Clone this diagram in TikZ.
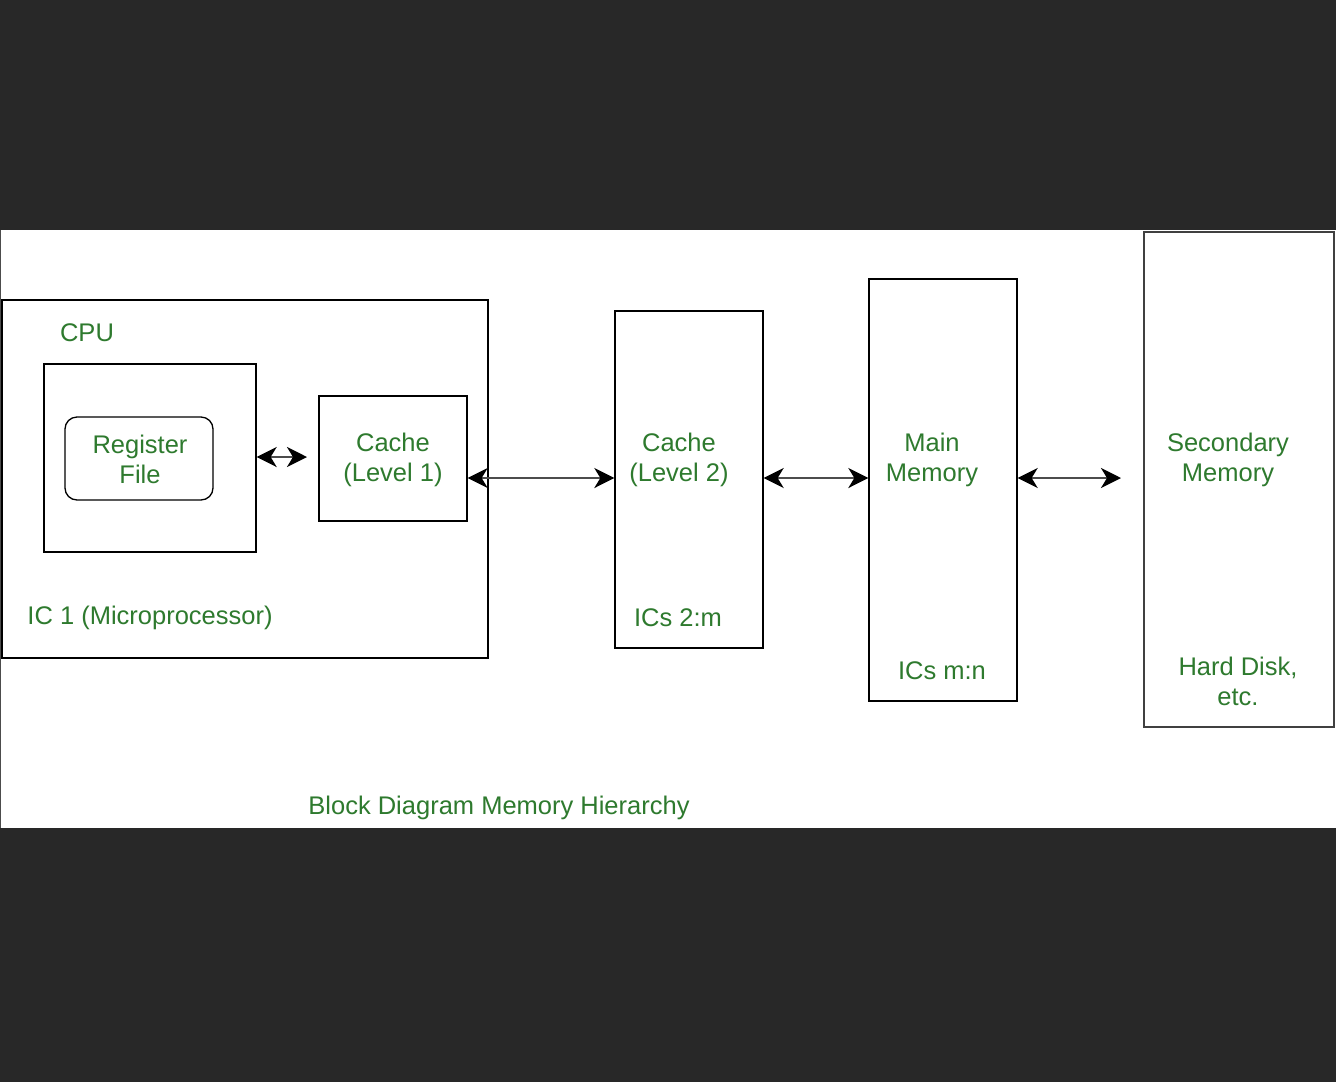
\documentclass[tikz,border=0pt]{standalone}
\usepackage{fontspec}
\setmainfont{Liberation Sans}
\usetikzlibrary{arrows.meta}
\definecolor{bgdark}{RGB}{40,40,40}
\definecolor{txtgreen}{RGB}{46,122,46}
\tikzset{
  box/.style={draw=black, line width=1.3pt, fill=white, inner sep=0pt},
  lbl/.style={text=txtgreen, font=\fontsize{25.5}{30}\selectfont, align=center, inner sep=0pt},
  biarrow/.style={line width=2.6pt, draw=black!70, {Stealth[length=20pt,width=20pt,inset=6pt,color=black]}-{Stealth[length=20pt,width=20pt,inset=6pt,color=black]}}
}
\begin{document}
\begin{tikzpicture}[x=1pt,y=-1pt]
\fill[bgdark] (0,0) rectangle (1336,1082);
\useasboundingbox (0,0) rectangle (1336,1082);
\fill[white] (0,230) rectangle (1336,828);
\draw[black!70, line width=1pt] (0.5,230) -- (0.5,828);
% boxes
\node[box, minimum width=486pt, minimum height=358pt] (cpu) at (245,479) {};
\node[box, minimum width=212pt, minimum height=188pt] (inner) at (150,458) {};
\node[box, rounded corners=12pt, minimum width=148pt, minimum height=83pt] (rf) at (139,458.5) {};
\node[box, minimum width=148pt, minimum height=125pt] (l1) at (393,458.5) {};
\node[box, minimum width=148pt, minimum height=337pt] (l2) at (689,479.5) {};
\node[box, minimum width=148pt, minimum height=422pt] (mm) at (943,490) {};
\node[box, draw=black!75, line width=1.8pt, minimum width=190pt, minimum height=495pt] (sec) at (1239,479.5) {};
% labels
\node[lbl] (tcpu) at (87,333) {CPU};
\node[lbl] (trf) at (140,459.5) {Register\\File};
\node[lbl] (tl1) at (393,459.5) {Cache\\(Level 1)};
\node[lbl] (tic1) at (150,618) {IC 1 (Microprocessor)};
\node[lbl] (tl2) at (679,459.5) {Cache\\(Level 2)};
\node[lbl] (tics2) at (678,618) {ICs 2:m};
\node[lbl] (tmm) at (932,459.5) {Main\\Memory};
\node[lbl] (tics3) at (942,671) {ICs m:n};
\node[lbl] (tsec) at (1228,459.5) {Secondary\\Memory};
\node[lbl] (thd) at (1238,681.5) {Hard Disk,\\etc.};
\node[lbl] (cap) at (499,808) {Block Diagram Memory Hierarchy};
% connectors
\coordinate (row) at (0,478);
\coordinate (rfend) at (307,457);
\coordinate (secend) at (1121,478);
\draw[biarrow] (inner.east |- rfend) -- (rfend);
\draw[biarrow] (l1.east |- row) -- (l2.west |- row);
\draw[biarrow] (l2.east |- row) -- (mm.west |- row);
\draw[biarrow] (mm.east |- row) -- (secend);
\end{tikzpicture}
\end{document}
